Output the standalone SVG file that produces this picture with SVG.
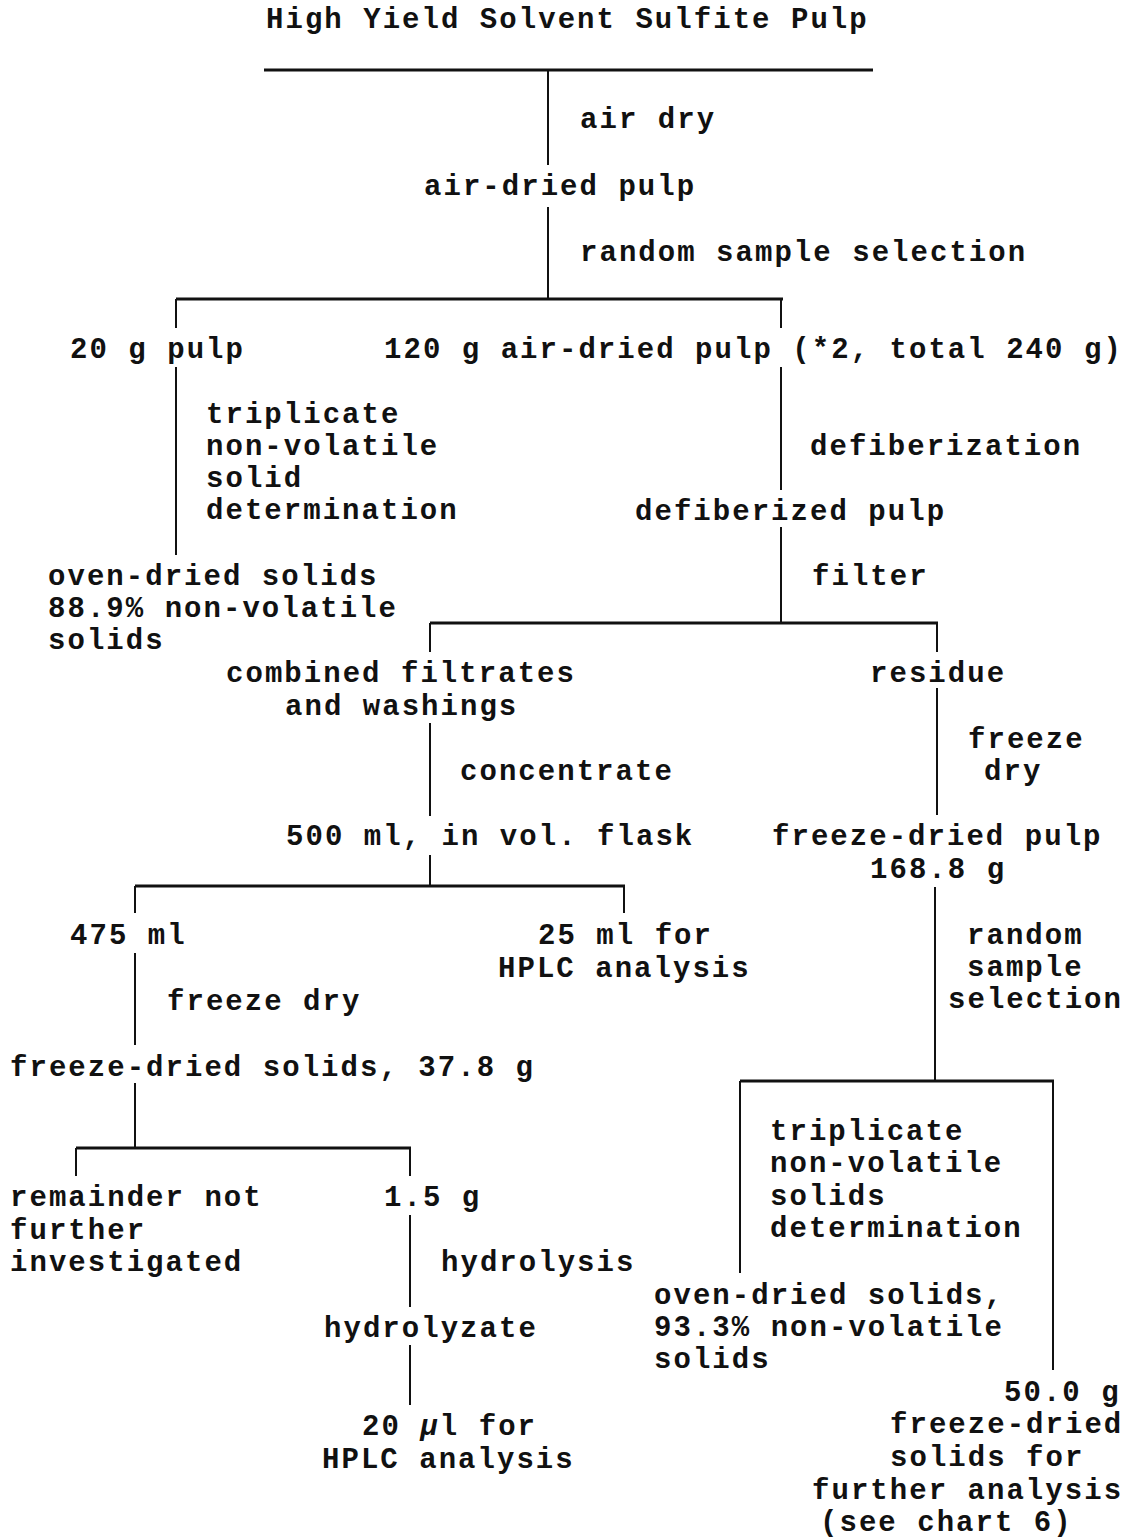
<svg xmlns="http://www.w3.org/2000/svg" width="1136" height="1538" viewBox="0 0 1136 1538">
  <style>
    text { font-family: "Liberation Mono", "Courier New", monospace; font-size: 29px; letter-spacing: 2.04px; font-weight: bold; fill: #111; }
    .v { stroke: #111; stroke-width: 2; fill: none; }
    .h { stroke: #111; stroke-width: 3; fill: none; }
  </style>
  <rect width="1136" height="1538" fill="#fff"/>

  <!-- connectors: branch bars and flow lines -->
  <g id="connectors">
    <path class="h" d="M264 70 H873"/>
    <path class="v" d="M548 70 V165 M548 207 V298"/>
    <path class="h" d="M176 299 H783"/>
    <path class="v" d="M176 299 V328 M176 367 V555"/>
    <path class="v" d="M781 299 V328 M781 367 V490 M781 527 V622"/>
    <path class="h" d="M430 623 H938"/>
    <path class="v" d="M430 623 V652 M430 723 V816"/>
    <path class="v" d="M937 623 V652 M937 688 V815"/>
    <path class="v" d="M430 855 V886"/>
    <path class="h" d="M135 886 H625"/>
    <path class="v" d="M135 886 V913 M135 953 V1045"/>
    <path class="v" d="M624 886 V913"/>
    <path class="v" d="M935 887 V1081"/>
    <path class="h" d="M740 1081 H1054"/>
    <path class="v" d="M740 1081 V1273"/>
    <path class="v" d="M1053 1081 V1370"/>
    <path class="v" d="M135 1083 V1148"/>
    <path class="h" d="M76 1148 H411"/>
    <path class="v" d="M76 1148 V1176 M410 1148 V1176"/>
    <path class="v" d="M410 1215 V1307 M410 1345 V1405"/>
  </g>

  <!-- nodes -->
  <g id="n-start"><text x="266" y="28">High Yield Solvent Sulfite Pulp</text></g>
  <g id="s-airdry"><text x="580" y="128">air dry</text></g>
  <g id="n-airdried"><text x="424" y="195">air-dried pulp</text></g>
  <g id="s-random1"><text x="580" y="261">random sample selection</text></g>
  <g id="n-20g"><text x="70" y="358">20 g pulp</text></g>
  <g id="n-120g"><text x="384" y="358">120 g air-dried pulp (*2, total 240 g)</text></g>
  <g id="s-triplicate1">
    <text x="206" y="423">triplicate</text>
    <text x="206" y="455">non-volatile</text>
    <text x="206" y="487">solid</text>
    <text x="206" y="519">determination</text>
  </g>
  <g id="s-defiber"><text x="810" y="455">defiberization</text></g>
  <g id="n-defibered"><text x="635" y="520">defiberized pulp</text></g>
  <g id="n-oven1">
    <text x="48" y="585">oven-dried solids</text>
    <text x="48" y="617">88.9% non-volatile</text>
    <text x="48" y="649">solids</text>
  </g>
  <g id="s-filter"><text x="812" y="585">filter</text></g>
  <g id="n-filtrates">
    <text x="226" y="682">combined filtrates</text>
    <text x="285" y="715">and washings</text>
  </g>
  <g id="n-residue"><text x="870" y="682">residue</text></g>
  <g id="s-freeze1">
    <text x="968" y="748">freeze</text>
    <text x="984" y="780">dry</text>
  </g>
  <g id="s-concentrate"><text x="460" y="780">concentrate</text></g>
  <g id="n-500ml"><text x="286" y="845">500 ml, in vol. flask</text></g>
  <g id="n-fdpulp">
    <text x="772" y="845">freeze-dried pulp</text>
    <text x="870" y="878">168.8 g</text>
  </g>
  <g id="n-475ml"><text x="70" y="944">475 ml</text></g>
  <g id="n-25ml">
    <text x="538" y="944">25 ml for</text>
    <text x="498" y="977">HPLC analysis</text>
  </g>
  <g id="s-random2">
    <text x="967" y="944">random</text>
    <text x="967" y="976">sample</text>
    <text x="948" y="1008">selection</text>
  </g>
  <g id="s-freeze2"><text x="167" y="1010">freeze dry</text></g>
  <g id="n-fdsolids"><text x="10" y="1076">freeze-dried solids, 37.8 g</text></g>
  <g id="s-triplicate2">
    <text x="770" y="1140">triplicate</text>
    <text x="770" y="1172">non-volatile</text>
    <text x="770" y="1205">solids</text>
    <text x="770" y="1237">determination</text>
  </g>
  <g id="n-remainder">
    <text x="10" y="1206">remainder not</text>
    <text x="10" y="1239">further</text>
    <text x="10" y="1271">investigated</text>
  </g>
  <g id="n-1-5g"><text x="384" y="1206">1.5 g</text></g>
  <g id="s-hydrolysis"><text x="441" y="1271">hydrolysis</text></g>
  <g id="n-oven2">
    <text x="654" y="1304">oven-dried solids,</text>
    <text x="654" y="1336">93.3% non-volatile</text>
    <text x="654" y="1368">solids</text>
  </g>
  <g id="n-hydrolyzate"><text x="324" y="1337">hydrolyzate</text></g>
  <g id="n-50g">
    <text x="1004" y="1401">50.0 g</text>
    <text x="890" y="1433">freeze-dried</text>
    <text x="890" y="1466">solids for</text>
    <text x="812" y="1499">further analysis</text>
    <text x="820" y="1531">(see chart 6)</text>
  </g>
  <g id="n-20ul">
    <text x="362" y="1435">20 <tspan font-style="italic">μ</tspan>l for</text>
    <text x="322" y="1468">HPLC analysis</text>
  </g>
</svg>
